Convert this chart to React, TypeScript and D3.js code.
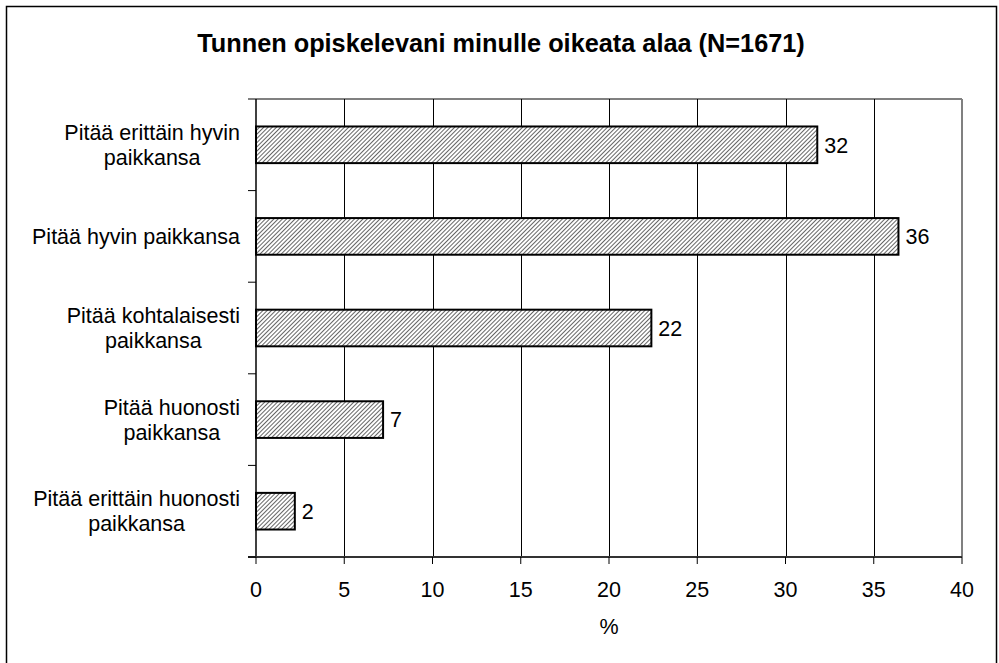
import React from "react";
import * as d3 from "d3";

const title = "Tunnen opiskelevani minulle oikeata alaa (N=1671)";
const categories = [
  ["Pitää erittäin hyvin", "paikkansa"],
  ["Pitää hyvin paikkansa"],
  ["Pitää kohtalaisesti", "paikkansa"],
  ["Pitää huonosti", "paikkansa"],
  ["Pitää erittäin huonosti", "paikkansa"],
];
const values = [31.8, 36.4, 22.4, 7.2, 2.2];
const labels = ["32", "36", "22", "7", "2"];
const xTicks = [0, 5, 10, 15, 20, 25, 30, 35, 40];
const xTitle = "%";

const W = 999;
const H = 663;
const plot = { left: 256, right: 962, top: 99, bottom: 557 };
const FONT = "'Liberation Sans', Arial, sans-serif";
const FS = 21.5;

function measure(text: string, size: number): number {
  const c = document.createElement("canvas").getContext("2d");
  if (!c) return text.length * size * 0.5;
  c.font = `${size}px 'Liberation Sans', Arial, sans-serif`;
  return c.measureText(text).width;
}

export default function App() {
  const x = d3.scaleLinear().domain([0, 40]).range([plot.left, plot.right]);
  const y = d3
    .scaleBand<number>()
    .domain(d3.range(categories.length))
    .range([plot.top, plot.bottom])
    .paddingInner(0.6)
    .paddingOuter(0.3);
  const step = (plot.bottom - plot.top) / categories.length;
  const boundaries = d3.range(categories.length + 1).map((i) => plot.top + i * step);
  const labelRight = 240;

  return (
    <svg
      width={W}
      height={H}
      style={{ position: "absolute", left: 0, top: 0, background: "#fff" }}
      fontFamily={FONT}
    >
      <defs>
        <pattern
          id="hatch"
          patternUnits="userSpaceOnUse"
          width={3}
          height={3}
          patternTransform="rotate(45)"
        >
          <rect width={3} height={3} fill="#fff" />
          <line x1={0.5} y1={0} x2={0.5} y2={3} stroke="#666" strokeWidth={1} />
        </pattern>
      </defs>
      <rect x={0} y={0} width={W} height={H} fill="#fff" />
      <rect x={6.5} y={6.5} width={990} height={680} fill="none" stroke="#000" strokeWidth={1.5} />

      <text x={501} y={52} textAnchor="middle" fontSize={25.3} fontWeight="bold">
        {title}
      </text>

      {/* plot border (top/right) */}
      <line x1={plot.left} y1={plot.top} x2={plot.right} y2={plot.top} stroke="#808080" strokeWidth={2} />
      <line x1={plot.right} y1={plot.top} x2={plot.right} y2={plot.bottom} stroke="#808080" strokeWidth={2} />

      {/* gridlines */}
      {xTicks.slice(1, -1).map((t) => (
        <line
          key={t}
          x1={Math.round(x(t)) + 0.5}
          x2={Math.round(x(t)) + 0.5}
          y1={plot.top}
          y2={plot.bottom}
          stroke="#000"
          strokeWidth={1}
        />
      ))}

      {/* bars */}
      {values.map((v, i) => (
        <g key={i}>
          <rect
            x={x(0)}
            y={y(i)!}
            width={x(v) - x(0)}
            height={y.bandwidth()}
            fill="url(#hatch)"
            stroke="#000"
            strokeWidth={2}
          />
          <text
            x={x(v) + 7}
            y={y(i)! + y.bandwidth() / 2}
            dy="0.36em"
            fontSize={FS}
          >
            {labels[i]}
          </text>
        </g>
      ))}

      {/* axes */}
      <line x1={plot.left} y1={plot.top} x2={plot.left} y2={plot.bottom} stroke="#000" strokeWidth={1.5} />
      <line x1={plot.left - 8} y1={plot.bottom} x2={plot.right} y2={plot.bottom} stroke="#333" strokeWidth={2} />
      {boundaries.map((b, i) => (
        <line key={i} x1={plot.left - 8} x2={plot.left} y1={b} y2={b} stroke="#000" strokeWidth={1} />
      ))}
      {xTicks.map((t) => (
        <g key={t}>
          <line x1={x(t)} x2={x(t)} y1={plot.bottom} y2={plot.bottom + 7} stroke="#000" strokeWidth={1} />
          <text x={x(t)} y={597} textAnchor="middle" fontSize={FS}>
            {t}
          </text>
        </g>
      ))}
      <text x={(plot.left + plot.right) / 2} y={634} textAnchor="middle" fontSize={FS}>
        {xTitle}
      </text>

      {/* category labels */}
      {categories.map((lines, i) => {
        const cy = plot.top + (i + 0.5) * step;
        const lh = 25;
        const start = cy - ((lines.length - 1) * lh) / 2;
        const maxW = d3.max(lines, (l) => measure(l, FS)) ?? 0;
        const cx = labelRight - maxW / 2;
        return (
          <text key={i} textAnchor="middle" fontSize={FS}>
            {lines.map((l, j) => (
              <tspan key={j} x={cx} y={start + j * lh} dy="0.36em">
                {l}
              </tspan>
            ))}
          </text>
        );
      })}
    </svg>
  );
}
